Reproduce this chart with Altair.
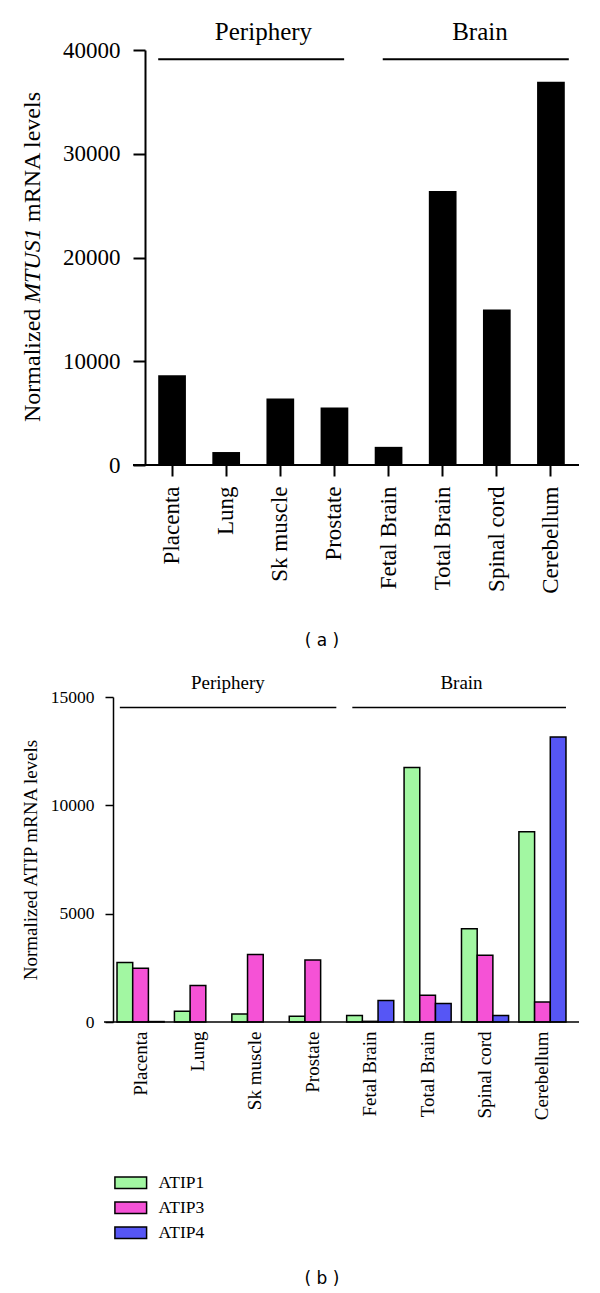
import altair as alt
import pandas as pd

# ---------------- data ----------------
tissues = ["Placenta", "Lung", "Sk muscle", "Prostate",
           "Fetal Brain", "Total Brain", "Spinal cord", "Cerebellum"]
mtus1 = [8650, 1250, 6400, 5550, 1750, 26400, 15000, 36950]

series = ["ATIP1", "ATIP3", "ATIP4"]
atip1 = [2750, 500, 370, 260, 300, 11750, 4300, 8780]
atip3 = [2480, 1690, 3120, 2860, 30, 1230, 3080, 920]
atip4 = [20, None, None, None, 990, 850, 300, 13150]
series_colors = ["#a2f7a2", "#f552d6", "#5656f5"]

group_names = ["Periphery", "Brain"]
group_first = ["Placenta", "Fetal Brain"]
group_last = ["Prostate", "Cerebellum"]
group_label_at = ["Sk muscle", "Spinal cord"]

a_ticks = [0, 10000, 20000, 30000, 40000]
b_ticks = [0, 5000, 10000, 15000]
a_title_parts = ["Normalized", "MTUS1", "mRNA levels"]
b_title = "Normalized ATIP mRNA levels"
captions = ["( a )", "( b )"]

SERIF = "Liberation Serif"
SANS = "DejaVu Sans"

# ---------------- panel (a) ----------------
SHIFT = 32          # panel (a) axis sits further right than panel (b)'s
WA, HA = 466, 415
df_a = pd.DataFrame({"tissue": tissues, "value": mtus1})

xa_scale = alt.Scale(domain=tissues, paddingInner=0.488, paddingOuter=0.244,
                     range=[SHIFT, SHIFT + 433])
ya_scale = alt.Scale(domain=[0, 40000], nice=False)

bars_a = alt.Chart(df_a).mark_bar(color="black").encode(
    x=alt.X("tissue:N", sort=tissues, scale=xa_scale,
            axis=alt.Axis(title=None, labelAngle=270, labelFont=SERIF, labelFontSize=23,
                          labelColor="black", labelPadding=10, tickSize=11, tickWidth=2,
                          tickColor="black", domain=False)),
    y=alt.Y("value:Q", scale=ya_scale,
            axis=alt.Axis(title=None, values=a_ticks, format="d", labelFont=SERIF,
                          labelFontSize=23, labelColor="black", labelPadding=13,
                          tickSize=12, tickWidth=2, tickColor="black", domainWidth=2,
                          domainColor="black", grid=False, offset=-SHIFT)),
)

base_a = alt.Chart(pd.DataFrame({"v": [0]})).mark_rule(color="black", strokeWidth=2).encode(
    x=alt.value(SHIFT - 12), x2=alt.value(WA), y=alt.Y("v:Q", scale=ya_scale))

a_bp = [(0.0, 0.85, 0), (0.29, 1.0, 4)]
a_dx = [-3, -3]
a_layers = [bars_a, base_a]
for i in range(2):
    gdf = pd.DataFrame({"first": [group_first[i]], "last": [group_last[i]],
                        "at": [group_label_at[i]], "name": [group_names[i]],
                        "ly": [39100], "ty": [40990]})
    a_layers.append(alt.Chart(gdf).mark_rule(color="black", strokeWidth=2,
                                             x2Offset=a_bp[i][2]).encode(
        x=alt.X("first:N", sort=tissues, scale=xa_scale, bandPosition=a_bp[i][0]),
        x2=alt.X2("last", bandPosition=a_bp[i][1]),
        y=alt.Y("ly:Q", scale=ya_scale)))
    a_layers.append(alt.Chart(gdf).mark_text(font=SERIF, fontSize=25, baseline="alphabetic",
                                             align="center", dx=a_dx[i], color="black").encode(
        x=alt.X("at:N", sort=tissues, scale=xa_scale, bandPosition=0),
        y=alt.Y("ty:Q", scale=ya_scale), text="name:N"))

# y-axis title with italic gene name
title_pos = [372, 253, 172]
for i, part in enumerate(a_title_parts):
    a_layers.append(alt.Chart(pd.DataFrame({"t": [part]})).mark_text(
        angle=270, align="left", baseline="middle", font=SERIF, fontSize=24,
        fontStyle="italic" if i == 1 else "normal", color="black").encode(
        x=alt.value(-80), y=alt.value(title_pos[i]), text="t:N"))

a_layers.append(alt.Chart(pd.DataFrame({"t": [captions[0]]})).mark_text(
    font=SANS, fontSize=17, baseline="middle", align="center", color="black").encode(
    x=alt.value(209), y=alt.value(591), text="t:N"))

panel_a = alt.layer(*a_layers).properties(width=WA, height=HA)

# ---------------- panel (b) ----------------
WB, HB = 457, 325
rows = []
for i, t in enumerate(tissues):
    for s, vals in zip(series, [atip1, atip3, atip4]):
        if vals[i] is not None:
            rows.append({"tissue": t, "series": s, "value": vals[i]})
df_b = pd.DataFrame(rows)

xb_scale = alt.Scale(domain=tissues, paddingInner=0.18, paddingOuter=0.07)
yb_scale = alt.Scale(domain=[0, 15000], nice=False)

legend_path = "M-2.64,-0.97L2.64,-0.97L2.64,0.97L-2.64,0.97Z"

bars_b = alt.Chart(df_b).mark_bar(stroke="black", strokeWidth=1.5).encode(
    x=alt.X("tissue:N", sort=tissues, scale=xb_scale,
            axis=alt.Axis(title=None, labelAngle=270, labelFont=SERIF, labelFontSize=19,
                          labelColor="black", labelPadding=9, ticks=False, domain=False)),
    xOffset=alt.XOffset("series:N", sort=series,
                        scale=alt.Scale(domain=series, paddingInner=0, paddingOuter=0)),
    y=alt.Y("value:Q", scale=yb_scale,
            axis=alt.Axis(title=b_title, values=b_ticks, format="d", labelFont=SERIF,
                          labelFontSize=17.5, labelColor="black", labelPadding=11,
                          tickSize=8, tickWidth=1.5, tickColor="black", domainWidth=1.5,
                          domainColor="black", grid=False, titleFont=SERIF,
                          titleFontSize=19, titleFontWeight="normal", titleColor="black",
                          titleX=-83, titleBaseline="middle")),
    color=alt.Color("series:N", sort=series,
                    scale=alt.Scale(domain=series, range=series_colors),
                    legend=alt.Legend(title=None, orient="none", legendX=9, legendY=477,
                                      symbolType=legend_path, symbolSize=144,
                                      symbolStrokeColor="black", symbolStrokeWidth=1.5,
                                      symbolOpacity=1, labelFont=SERIF, labelFontSize=17.5,
                                      labelColor="black", labelOffset=19, rowPadding=6)),
)

base_b = alt.Chart(pd.DataFrame({"v": [0]})).mark_rule(color="black", strokeWidth=1.5).encode(
    x=alt.value(-9), x2=alt.value(WB + 9), y=alt.Y("v:Q", scale=yb_scale))

b_bp = [(0.06, 1.0), (0.12, 1.0)]
b_dx = [-4, 0]
b_layers = [bars_b, base_b]
for i in range(2):
    gdf = pd.DataFrame({"first": [group_first[i]], "last": [group_last[i]],
                        "at": [group_label_at[i]], "name": [group_names[i]],
                        "ly": [14520], "ty": [15380]})
    b_layers.append(alt.Chart(gdf).mark_rule(color="black", strokeWidth=1.5).encode(
        x=alt.X("first:N", sort=tissues, scale=xb_scale, bandPosition=b_bp[i][0]),
        x2=alt.X2("last", bandPosition=b_bp[i][1]),
        y=alt.Y("ly:Q", scale=yb_scale)))
    b_layers.append(alt.Chart(gdf).mark_text(font=SERIF, fontSize=19, baseline="alphabetic",
                                             align="center", dx=b_dx[i], color="black").encode(
        x=alt.X("at:N", sort=tissues, scale=xb_scale, bandPosition=0),
        y=alt.Y("ty:Q", scale=yb_scale), text="name:N"))

b_layers.append(alt.Chart(pd.DataFrame({"t": [captions[1]]})).mark_text(
    font=SANS, fontSize=17, baseline="middle", align="center", color="black").encode(
    x=alt.value(209), y=alt.value(582), text="t:N"))

panel_b = alt.layer(*b_layers).properties(width=WB, height=HB)

chart = alt.concat(panel_a, panel_b, columns=1, spacing=24).properties(
    padding={"left": 13, "top": 11, "right": 0, "bottom": 0}
).resolve_scale(color="independent").configure_view(stroke=None)

chart.save("out.html", embed_options={"renderer": "svg", "actions": False})
